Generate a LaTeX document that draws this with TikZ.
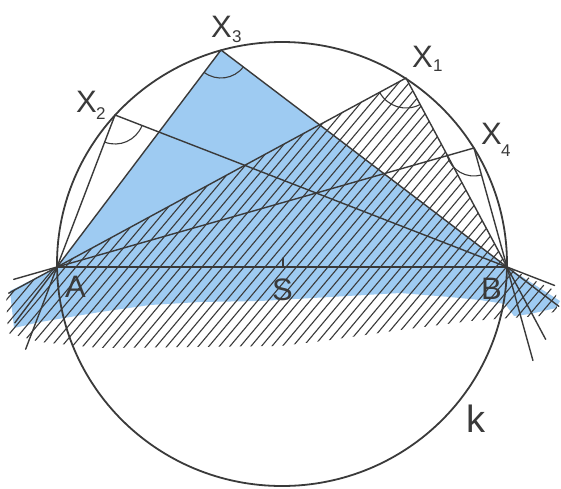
\documentclass[tikz,border=0pt]{standalone}
\usepackage{fontspec}
\setmainfont{Liberation Sans}
\usetikzlibrary{angles,calc}
\definecolor{lineg}{RGB}{58,58,58}
\definecolor{sky}{RGB}{158,203,242}
\begin{document}
\begin{tikzpicture}[x=1pt,y=-1pt,
  geo/.style={draw=lineg, line width=1.4pt, line join=round, line cap=round},
  hatchline/.style={draw=lineg, line width=1.1pt},
  ang/.style={draw=lineg, line width=1.1pt, angle radius=28pt},
  lab/.style={text=lineg, inner sep=0pt, anchor=base west, font=\fontsize{31}{31}\selectfont},
  subl/.style={text=lineg, inner sep=0pt, anchor=base west, font=\fontsize{17}{17}\selectfont}]
\useasboundingbox (0,0) rectangle (561,488);
\fill[white] (0,0) rectangle (561,488);
% points
\coordinate (A) at (57,267);
\coordinate (B) at (507,267);
\coordinate (S) at (283,267);
\coordinate (X1) at (406,78);
\coordinate (X2) at (115,115);
\coordinate (X3) at (221,50);
\coordinate (X4) at (474,148);
% blue region
\fill[sky] (A) -- (X3) -- (B) -- (560,301) -- (556,308) -- (530,314) -- (514,316)
  -- (505,304) -- (480,300) -- (450,297) -- (400,293) -- (330,297) -- (260,301)
  -- (200,302) -- (150,305) -- (100,312) -- (40,322) -- (14,328) -- (10,291) -- cycle;
% hatched region
\begin{scope}
  \clip (A) -- (X1) -- (B) -- (556,291) -- (557,311) -- (540,316) -- (510,318)
    -- (470,321) -- (400,330) -- (330,340) -- (280,346) -- (100,348) -- (40,342)
    -- (8,333) -- (6,294) -- cycle;
  \foreach \i in {-31,...,54} {
    \draw[hatchline] (\i*10.5,370) -- ++(319,-380);
  }
\end{scope}
% circle k
\draw[draw=lineg, line width=1.8pt] (282,264) ellipse [x radius=225pt, y radius=222pt];
% lines through A and B
\draw[geo] ($(A)!-45pt!(X4)$) -- (X4) -- ($(B)!-97pt!(X4)$);
\draw[geo] ($(A)!-55pt!(X1)$) -- (X1) -- ($(B)!-82pt!(X1)$);
\draw[geo] ($(A)!-70pt!(X3)$) -- (X3) -- ($(B)!-65pt!(X3)$);
\draw[geo] ($(A)!-88pt!(X2)$) -- (X2) -- ($(B)!-51pt!(X2)$);
\draw[geo, line width=2pt] (A) -- (B);
\draw[geo, line width=1.1pt] (S) -- ++(0,-9);
% angle marks
\pic[ang] {angle=A--X3--B};
\pic[ang, angle radius=29pt] {angle=A--X2--B};
\pic[ang, angle radius=30pt] {angle=A--X1--B};
\pic[ang] {angle=A--X4--B};
% labels
\node[lab] (lX3) at (211,37) {X};
\node[subl] (sX3) at (232,42) {3};
\node[lab] (lX2) at (76,112) {X};
\node[subl] (sX2) at (96,119) {2};
\node[lab] (lX1) at (412,67) {X};
\node[subl] (sX1) at (433,71) {1};
\node[lab] (lX4) at (481,144) {X};
\node[subl] (sX4) at (501,156) {4};
\node[lab] (lA) at (65,297) {A};
\node[lab] (lS) at (272,300) {S};
\node[lab] (lB) at (481,299) {B};
\node[lab, font=\fontsize{38}{38}\selectfont] (lk) at (466,432) {k};
\end{tikzpicture}
\end{document}
